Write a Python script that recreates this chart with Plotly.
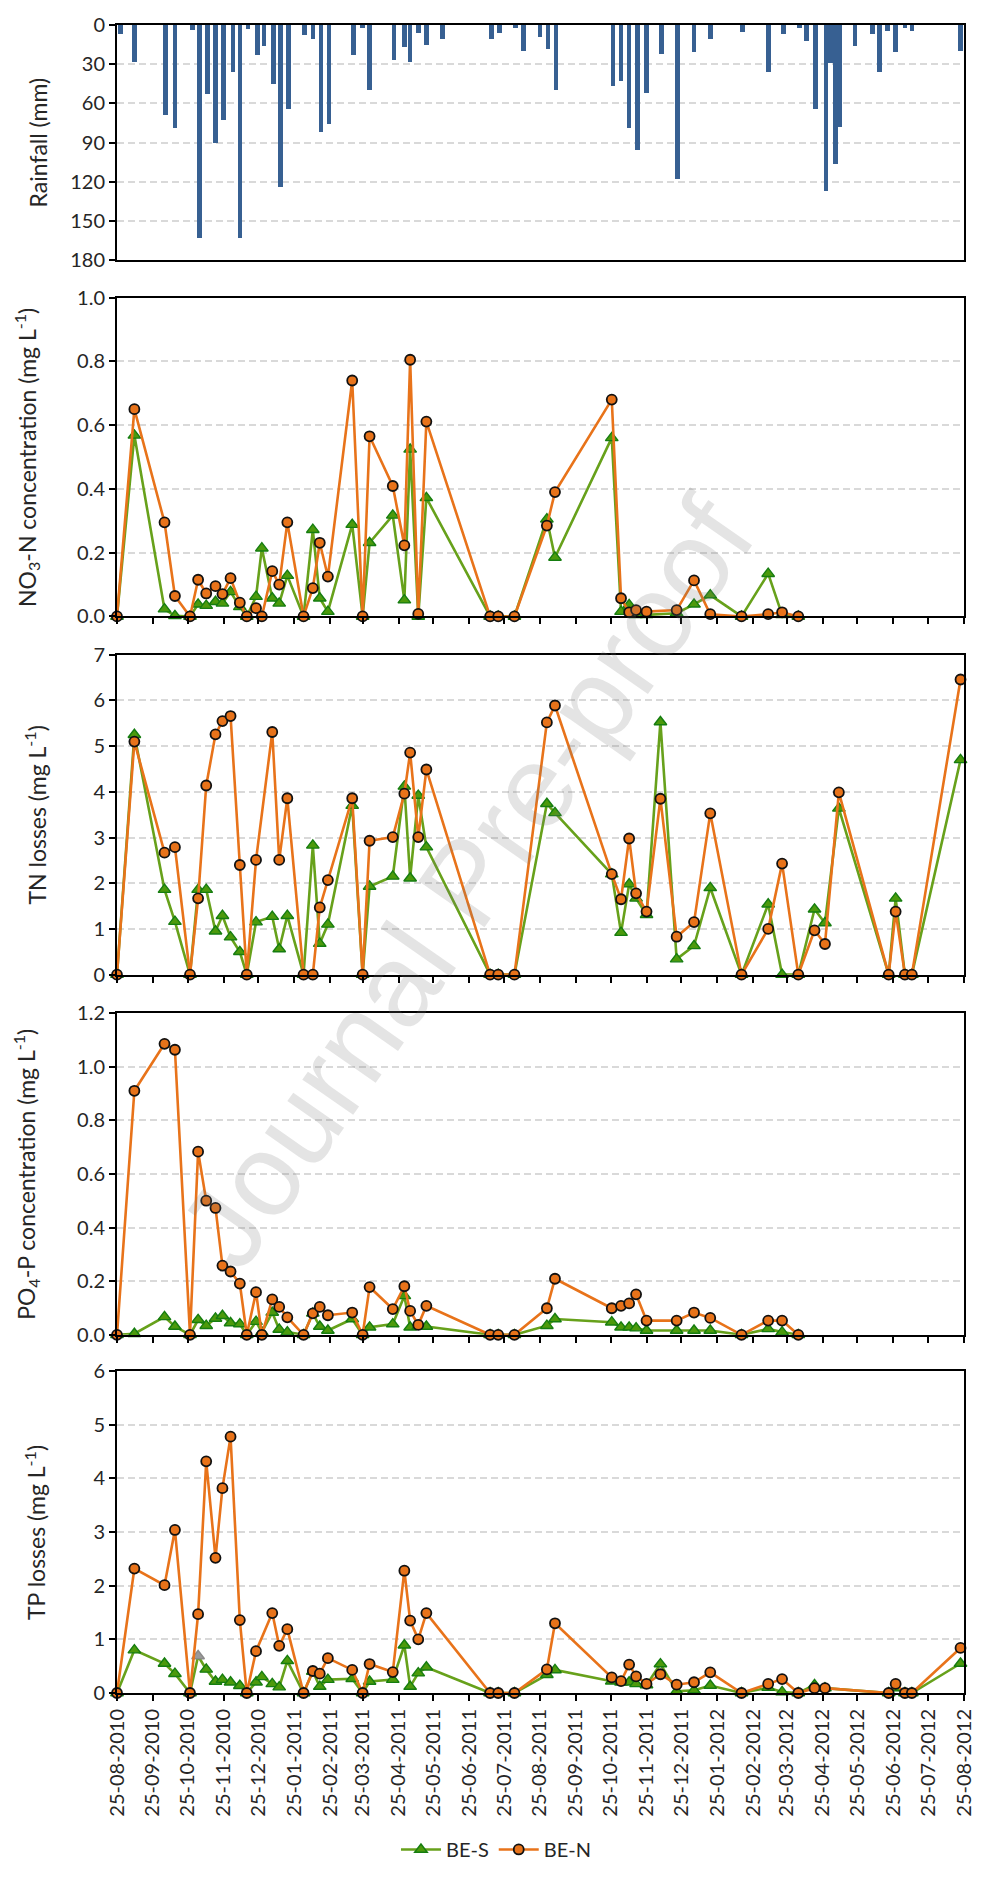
import plotly.graph_objects as go

# ---------------------------------------------------------------- data
SAMPLE_DATES = [
    "2010-08-25", "2010-09-09", "2010-10-05", "2010-10-14", "2010-10-27",
    "2010-11-03", "2010-11-10", "2010-11-18", "2010-11-24", "2010-12-01",
    "2010-12-09", "2010-12-15", "2010-12-23", "2010-12-28", "2011-01-06",
    "2011-01-12", "2011-01-19", "2011-02-02", "2011-02-10", "2011-02-16",
    "2011-02-23", "2011-03-16", "2011-03-25", "2011-03-31", "2011-04-20",
    "2011-04-30", "2011-05-05", "2011-05-12", "2011-05-19", "2011-07-13",
    "2011-07-20", "2011-08-03", "2011-08-31", "2011-09-07", "2011-10-26",
    "2011-11-03", "2011-11-10", "2011-11-16", "2011-11-25", "2011-12-07",
    "2011-12-21", "2012-01-05", "2012-01-19", "2012-02-15", "2012-03-09",
    "2012-03-21", "2012-04-04", "2012-04-18", "2012-04-27", "2012-05-09",
    "2012-06-21", "2012-06-27", "2012-07-05", "2012-07-11", "2012-08-22",
]

NO3_BE_S = [
    0, 0.568, 0.023, 0.002, 0, 0.038, 0.034, 0.046, 0.041, 0.077,
    0.03, 0, 0.062, 0.214, 0.057, 0.041, 0.128, 0, 0.272, 0.057,
    0.015, 0.288, 0, 0.231, 0.317, 0.051, 0.524, 0, 0.372, 0,
    0, 0, 0.305, 0.185, 0.56, 0.015, 0.036, 0.005, 0.005, None,
    0.01, 0.038, 0.067, 0, 0.134, 0.005, 0, None, None, None,
    None, None, None, None, None,
]
NO3_BE_N = [
    0, 0.65, 0.295, 0.064, 0, 0.115, 0.072, 0.095, 0.07, 0.12,
    0.043, 0, 0.026, 0, 0.142, 0.1, 0.295, 0, 0.089, 0.231,
    0.125, 0.74, 0, 0.565, 0.409, 0.223, 0.805, 0.008, 0.611, 0,
    0, 0, 0.285, 0.39, 0.68, 0.057, 0.013, 0.02, 0.015, None,
    0.02, 0.113, 0.007, 0, 0.007, 0.013, 0, None, None, None,
    None, None, None, None, None,
]

TN_BE_S = [
    0, 5.25, 1.86, 1.16, 0, 1.86, 1.86, 0.95, 1.29, 0.82,
    0.5, 0, 1.15, None, 1.27, 0.56, 1.29, 0, 2.83, 0.68,
    1.10, 3.70, 0, 1.93, 2.15, 4.12, 2.11, 3.92, 2.79, 0,
    0, 0, 3.74, 3.54, 2.20, 0.92, 1.98, 1.67, 1.31, 5.53,
    0.34, 0.63, 1.90, 0, 1.54, 0, 0, 1.43, 1.13, 3.64,
    0, 1.67, 0, 0, 4.70,
]
TN_BE_N = [
    0, 5.10, 2.67, 2.79, 0, 1.67, 4.14, 5.26, 5.55, 5.66,
    2.40, 0, 2.51, None, 5.31, 2.51, 3.86, 0, 0, 1.47,
    2.07, 3.86, 0, 2.93, 3.01, 3.96, 4.86, 3.01, 4.49, 0,
    0, 0, 5.52, 5.89, 2.20, 1.65, 2.98, 1.78, 1.38, 3.85,
    0.83, 1.15, 3.53, 0, 1.00, 2.43, 0, 0.97, 0.67, 3.99,
    0, 1.38, 0, 0, 6.46,
]

PO4_BE_S = [
    0, 0.004, 0.067, 0.031, 0, 0.056, 0.034, 0.061, 0.071, 0.044,
    0.04, 0, 0.049, 0.01, 0.083, 0.02, 0.01, 0, 0.08, 0.031,
    0.016, 0.059, 0, 0.028, 0.04, 0.145, 0.028, 0.031, 0.031, 0,
    0, 0, 0.034, 0.059, 0.047, 0.028, 0.028, 0.025, 0.016, None,
    0.016, 0.016, 0.016, 0, 0.022, 0.01, 0, None, None, None,
    None, None, None, None, None,
]
PO4_BE_N = [
    0, 0.91, 1.085, 1.063, 0, 0.683, 0.50, 0.473, 0.258, 0.236,
    0.191, 0, 0.159, 0, 0.132, 0.104, 0.065, 0, 0.08, 0.104,
    0.073, 0.083, 0, 0.178, 0.096, 0.181, 0.089, 0.037, 0.108, 0,
    0, 0, 0.099, 0.209, 0.099, 0.108, 0.117, 0.151, 0.053, None,
    0.053, 0.083, 0.063, 0, 0.053, 0.053, 0, None, None, None,
    None, None, None, None, None,
]

TP_BE_S = [
    0, 0.80, 0.55, 0.36, 0, 0.69, 0.44, 0.215, 0.25, 0.2,
    0.135, 0, 0.2, 0.3, 0.17, 0.11, 0.6, 0, 0.4, 0.12,
    0.25, 0.265, 0, 0.215, 0.25, 0.89, 0.12, 0.37, 0.48, 0,
    0, 0, 0.34, 0.43, 0.22, 0.2, 0.2, 0.17, 0.15, 0.54,
    0.03, 0.05, 0.14, 0, 0.1, 0.02, 0, 0.15, 0.09, None,
    0, 0.09, 0, 0, 0.55,
]
TP_BE_N = [
    0, 2.32, 2.01, 3.04, 0, 1.47, 4.32, 2.52, 3.82, 4.78,
    1.36, 0, 0.78, None, 1.49, 0.88, 1.19, 0, 0.41, 0.36,
    0.65, 0.43, 0, 0.54, 0.39, 2.28, 1.35, 1.0, 1.49, 0,
    0, 0, 0.44, 1.30, 0.29, 0.22, 0.53, 0.31, 0.17, 0.35,
    0.155, 0.2, 0.385, 0, 0.17, 0.26, 0, 0.09, 0.09, None,
    0, 0.17, 0, 0, 0.84,
]
# sample whose BE-S marker is drawn in grey in the TP panel
TP_BE_S_GREY_DATE = "2010-11-03"

RAIN_DATES = [
    "2010-08-28", "2010-09-09", "2010-10-06", "2010-10-14", "2010-10-29",
    "2010-11-04", "2010-11-11", "2010-11-18", "2010-11-25", "2010-12-03",
    "2010-12-09", "2010-12-16", "2010-12-24", "2010-12-30", "2011-01-07",
    "2011-01-13", "2011-01-20", "2011-02-03", "2011-02-10", "2011-02-17",
    "2011-02-24", "2011-03-17", "2011-03-25", "2011-03-31", "2011-04-21",
    "2011-04-30", "2011-05-05", "2011-05-12", "2011-05-19", "2011-06-02",
    "2011-07-14", "2011-07-21", "2011-08-04", "2011-08-11", "2011-08-25",
    "2011-09-01", "2011-09-08", "2011-10-27", "2011-11-03", "2011-11-10",
    "2011-11-17", "2011-11-25", "2011-12-08", "2011-12-22", "2012-01-05",
    "2012-01-19", "2012-02-16", "2012-03-09", "2012-03-22", "2012-04-05",
    "2012-04-11", "2012-04-19", "2012-04-28", "2012-05-02", "2012-05-06",
    "2012-05-10", "2012-05-23", "2012-06-07", "2012-06-13", "2012-06-20",
    "2012-06-27", "2012-07-05", "2012-07-11", "2012-08-22",
]
RAIN_MM = [
    7, 28, 69, 79, 4, 163, 53, 90, 73, 36,
    163, 3, 23, 16, 45, 124, 64, 8, 11, 82,
    76, 23, 2.5, 50, 27, 17, 28, 6, 15, 11,
    11, 6, 2.5, 20, 9, 18, 50, 47, 43, 79,
    96, 52, 22, 118, 21, 11, 5, 36, 7, 2.5,
    12, 64, 127, 29, 106, 78, 16, 7, 36, 4.5,
    21, 2.5, 4.5, 20,
]

MONTH_TICKS = [
    "2010-08-25", "2010-09-25", "2010-10-25", "2010-11-25", "2010-12-25",
    "2011-01-25", "2011-02-25", "2011-03-25", "2011-04-25", "2011-05-25",
    "2011-06-25", "2011-07-25", "2011-08-25", "2011-09-25", "2011-10-25",
    "2011-11-25", "2011-12-25", "2012-01-25", "2012-02-25", "2012-03-25",
    "2012-04-25", "2012-05-25", "2012-06-25", "2012-07-25", "2012-08-25",
]
MONTH_LABELS = [
    "25-08-2010", "25-09-2010", "25-10-2010", "25-11-2010", "25-12-2010",
    "25-01-2011", "25-02-2011", "25-03-2011", "25-04-2011", "25-05-2011",
    "25-06-2011", "25-07-2011", "25-08-2011", "25-09-2011", "25-10-2011",
    "25-11-2011", "25-12-2011", "25-01-2012", "25-02-2012", "25-03-2012",
    "25-04-2012", "25-05-2012", "25-06-2012", "25-07-2012", "25-08-2012",
]

# ---------------------------------------------------------------- style
W, H = 987, 1881
LEFT, RIGHT, TOP, BOTTOM = 117, 973, 14, 1709      # plot area in px
FONT = "Lato"
TXT = "#262626"
BAR_BLUE = "#376092"
ORANGE = "#E8731A"
GREEN_LINE = "#67A11B"
GREEN_FILL = "#4C9A0C"
GREEN_EDGE = "#157D10"
GRID = "#D9D9D9"
DAY_MS = 86400000

# panel vertical extents in px (top, bottom)
PANELS = {
    "rain": (14, 253),
    "no3": (291, 615),
    "tn": (654, 979),
    "po4": (1018, 1345),
    "tp": (1382, 1709),
}
SPAN = BOTTOM - TOP


def dom(key):
    top, bot = PANELS[key]
    return [(BOTTOM - bot) / SPAN, (BOTTOM - top) / SPAN]


def px_x(px):
    return (px - LEFT) / (RIGHT - LEFT)


fig = go.Figure()

# rainfall bars hanging from the top axis
fig.add_trace(go.Bar(
    x=RAIN_DATES, y=RAIN_MM, width=4 * DAY_MS,
    marker=dict(color=BAR_BLUE, line=dict(width=0)),
    xaxis="x", yaxis="y", showlegend=False, hoverinfo="x+y",
))

series = [
    ("2", NO3_BE_S, NO3_BE_N),
    ("3", TN_BE_S, TN_BE_N),
    ("4", PO4_BE_S, PO4_BE_N),
    ("5", TP_BE_S, TP_BE_N),
]
for idx, s_vals, n_vals in series:
    s_fill = GREEN_FILL
    s_edge = GREEN_EDGE
    if idx == "5":
        s_fill = ["#9A9A9A" if d == TP_BE_S_GREY_DATE else GREEN_FILL for d in SAMPLE_DATES]
        s_edge = ["#8A8A8A" if d == TP_BE_S_GREY_DATE else GREEN_EDGE for d in SAMPLE_DATES]
    fig.add_trace(go.Scatter(
        x=SAMPLE_DATES, y=s_vals, mode="lines+markers", name="BE-S",
        legendgroup="S", showlegend=(idx == "2"), connectgaps=True, cliponaxis=False,
        line=dict(color=GREEN_LINE, width=2.6),
        marker=dict(symbol="triangle-up", size=11, color=s_fill,
                    line=dict(color=s_edge, width=1.4)),
        xaxis="x" + idx, yaxis="y" + idx,
    ))
    fig.add_trace(go.Scatter(
        x=SAMPLE_DATES, y=n_vals, mode="lines+markers", name="BE-N",
        legendgroup="N", showlegend=(idx == "2"), connectgaps=True, cliponaxis=False,
        line=dict(color=ORANGE, width=2.6),
        marker=dict(symbol="circle", size=10, color=ORANGE,
                    line=dict(color="#111111", width=1.8)),
        xaxis="x" + idx, yaxis="y" + idx,
    ))

X_RANGE = ["2010-08-25", "2012-08-25"]
tick_font = dict(family=FONT, size=20, color=TXT)


def xaxis(anchor, ticks=True, labels=False):
    return dict(
        type="date", range=X_RANGE, domain=[0, 1], anchor=anchor,
        tickvals=MONTH_TICKS, ticktext=MONTH_LABELS, tickangle=-90,
        showticklabels=labels, ticks="outside" if ticks else "",
        ticklen=6, tickwidth=1.6, tickcolor="black",
        showline=True, linecolor="black", linewidth=2, mirror=True,
        showgrid=False, zeroline=False, tickfont=tick_font,
    )


def yaxis(key, rng, vals, fmt):
    return dict(
        domain=dom(key), range=rng, tickvals=vals, tickformat=fmt,
        ticks="outside", ticklen=6, tickwidth=1.6, tickcolor="black",
        showline=True, linecolor="black", linewidth=2, mirror=True,
        showgrid=True, gridcolor=GRID, gridwidth=1.6, griddash="7px,4px",
        zeroline=False, tickfont=tick_font,
    )


fig.update_layout(
    width=W, height=H,
    margin=dict(l=LEFT, r=W - RIGHT, t=TOP, b=H - BOTTOM, pad=0),
    paper_bgcolor="white", plot_bgcolor="white",
    font=dict(family=FONT, size=20, color=TXT),
    bargap=0,
    xaxis=xaxis("y", ticks=False),
    xaxis2=xaxis("y2"),
    xaxis3=xaxis("y3"),
    xaxis4=xaxis("y4"),
    xaxis5=xaxis("y5", labels=True),
    yaxis=yaxis("rain", [180, 0], [0, 30, 60, 90, 120, 150, 180], "d"),
    yaxis2=yaxis("no3", [0, 1.0], [0, 0.2, 0.4, 0.6, 0.8, 1.0], ".1f"),
    yaxis3=yaxis("tn", [0, 7], [0, 1, 2, 3, 4, 5, 6, 7], "d"),
    yaxis4=yaxis("po4", [0, 1.2], [0, 0.2, 0.4, 0.6, 0.8, 1.0, 1.2], ".1f"),
    yaxis5=yaxis("tp", [0, 6], [0, 1, 2, 3, 4, 5, 6], "d"),
    legend=dict(
        orientation="h", x=px_x(500), xanchor="center",
        y=(BOTTOM - 1868) / SPAN, yanchor="middle",
        font=dict(family=FONT, size=20, color=TXT),
        bgcolor="rgba(0,0,0,0)", itemwidth=40, traceorder="normal",
    ),
)

# axis titles
titles = [
    ("rain", "Rainfall (mm)", 37),
    ("no3", "NO<sub>3</sub>-N concentration (mg L<sup>-1</sup>)", 25),
    ("tn", "TN losses (mg L<sup>-1</sup>)", 35),
    ("po4", "PO<sub>4</sub>-P concentration (mg L<sup>-1</sup>)", 25),
    ("tp", "TP losses (mg L<sup>-1</sup>)", 34),
]
for key, text, xc in titles:
    d0, d1 = dom(key)
    fig.add_annotation(
        text=text, xref="paper", yref="paper", x=px_x(xc), y=(d0 + d1) / 2,
        xanchor="center", yanchor="middle", textangle=-90, showarrow=False,
        font=dict(family=FONT, size=23, color=TXT),
    )

# diagonal watermark
fig.add_annotation(
    text="Journal Pre-proof", xref="paper", yref="paper",
    x=px_x(470), y=(BOTTOM - 885) / SPAN, xanchor="center", yanchor="middle",
    textangle=-55, showarrow=False,
    font=dict(family="Liberation Sans", size=117, color="rgba(120,120,120,0.2)"),
)

fig.write_html("out.html", config={"displayModeBar": False})
